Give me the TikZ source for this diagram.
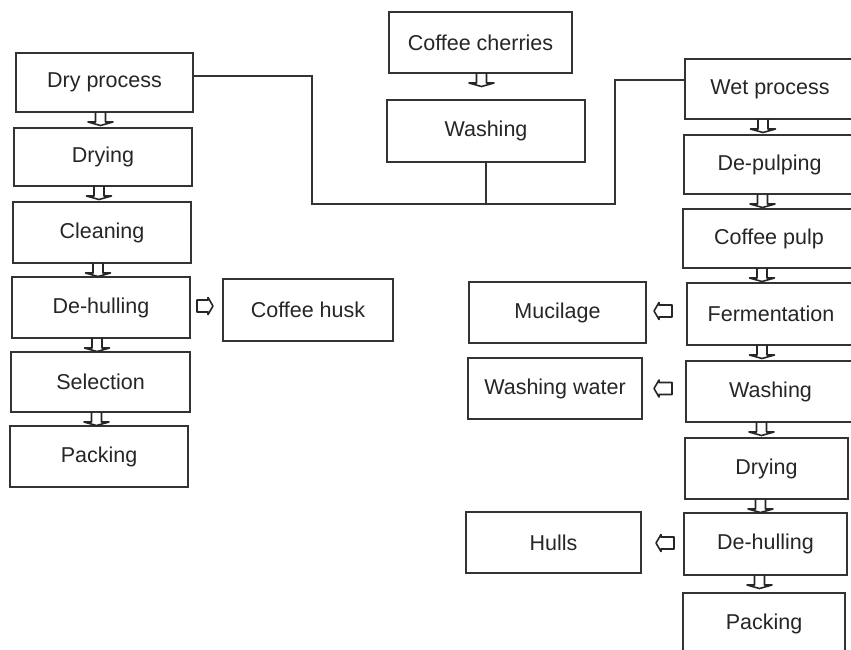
\documentclass[tikz,border=0pt]{standalone}
\usepackage{fontspec}
\setmainfont{Liberation Sans}
\begin{document}
\begin{tikzpicture}[x=1pt,y=-1pt,
  box/.style={draw=black!80, line width=1.4pt, rectangle, inner sep=0pt, outer sep=0pt,
    text=black!85, font=\fontsize{21.5}{25}\selectfont},
  conn/.style={draw=black!80, line width=1.4pt},
  arr/.style={draw=black!85, line width=1.6pt, line join=round},
  darr/.pic={\draw[arr] (-5,0) -- (-5,10) -- (-12.5,10) -- (0,13.5) -- (12.5,10) -- (5,10) -- (5,0);},
  rarr/.pic={\draw[arr] (0,-6) -- (11,-6) -- (11,-8.5) -- (16,0) -- (11,8.5) -- (11,6) -- (0,6) -- cycle;},
  larr/.pic={\draw[arr] (0,-6) -- (-13,-6) -- (-13,-8.5) -- (-18,0) -- (-13,8.5) -- (-13,6) -- (0,6) -- cycle;}
]
\useasboundingbox[fill=white] (0,0) rectangle (851,649);

% top
\node[box, minimum width=183pt, minimum height=61pt] (cherries) at (480.5,42.5) {Coffee cherries};
\node[box, minimum width=198pt, minimum height=62pt] (washA) at (486,131) {Washing};

% dry process column
\node[box, minimum width=177pt, minimum height=59pt] (dry) at (104.5,82.5) {Dry process};
\node[box, minimum width=178pt, minimum height=58pt] (dryingL) at (103,157) {Drying};
\node[box, minimum width=178pt, minimum height=61pt] (cleaning) at (102,232.5) {Cleaning};
\node[box, minimum width=178pt, minimum height=61pt] (dehullL) at (101,307.5) {De-hulling};
\node[box, minimum width=179pt, minimum height=60pt] (selection) at (100.5,382) {Selection};
\node[box, minimum width=178pt, minimum height=61pt] (packL) at (99,456.5) {Packing};
\node[box, minimum width=170pt, minimum height=62pt] (husk) at (308,310) {Coffee husk};

% wet process column
\node[box, minimum width=170pt, minimum height=60pt] (wet) at (770,89) {Wet process};
\node[box, minimum width=171pt, minimum height=59pt] (depulp) at (769.5,164.5) {De-pulping};
\node[box, minimum width=172pt, minimum height=59pt] (pulp) at (769,238.5) {Coffee pulp};
\node[box, minimum width=168pt, minimum height=62pt] (ferment) at (771,314) {Fermentation};
\node[box, minimum width=169pt, minimum height=61pt] (washR) at (770.5,391.5) {Washing};
\node[box, minimum width=163pt, minimum height=61pt] (dryingR) at (766.5,468.5) {Drying};
\node[box, minimum width=163pt, minimum height=62pt] (dehullR) at (765.5,544) {De-hulling};
\node[box, minimum width=162pt, minimum height=61pt] (packR) at (764,623.5) {Packing};

\node[box, minimum width=177pt, minimum height=61pt] (mucilage) at (557.5,312.5) {Mucilage};
\node[box, minimum width=174pt, minimum height=61pt] (washwater) at (555,388.5) {Washing water};
\node[box, minimum width=175pt, minimum height=61pt] (hulls) at (553.5,542.5) {Hulls};

% connectors
\coordinate (dlev) at (0,76);
\coordinate (wlev) at (0,80);
\coordinate (j1) at (312,204);
\coordinate (j2) at (615,204);
\draw[conn] (dry.east |- dlev) -| (j1) -- (j2) |- (wet.west |- wlev);
\draw[conn] (washA.south) -- (washA.south |- j1);

% block arrows, vertical
\pic at ([xshift=1pt]cherries.south) {darr};
\pic at ([xshift=-4pt]dry.south) {darr};
\pic at ([xshift=-4pt]dryingL.south) {darr};
\pic at ([xshift=-4pt]cleaning.south) {darr};
\pic at ([xshift=-4pt]dehullL.south) {darr};
\pic at ([xshift=-4pt]selection.south) {darr};
\pic at ([xshift=-7pt]wet.south) {darr};
\pic at ([xshift=-7pt]depulp.south) {darr};
\pic at ([xshift=-7pt]pulp.south) {darr};
\pic at ([xshift=-9pt]ferment.south) {darr};
\pic at ([xshift=-9pt]washR.south) {darr};
\pic at ([xshift=-6pt]dryingR.south) {darr};
\pic at ([xshift=-6pt]dehullR.south) {darr};

% block arrows, horizontal
\pic at ([xshift=7pt,yshift=1.5pt]dehullL.east) {rarr};
\pic at ([xshift=-15pt,yshift=3pt]ferment.west) {larr};
\pic at ([xshift=-14pt,yshift=3pt]washR.west) {larr};
\pic at ([xshift=-10pt,yshift=1pt]dehullR.west) {larr};
\end{tikzpicture}
\end{document}
